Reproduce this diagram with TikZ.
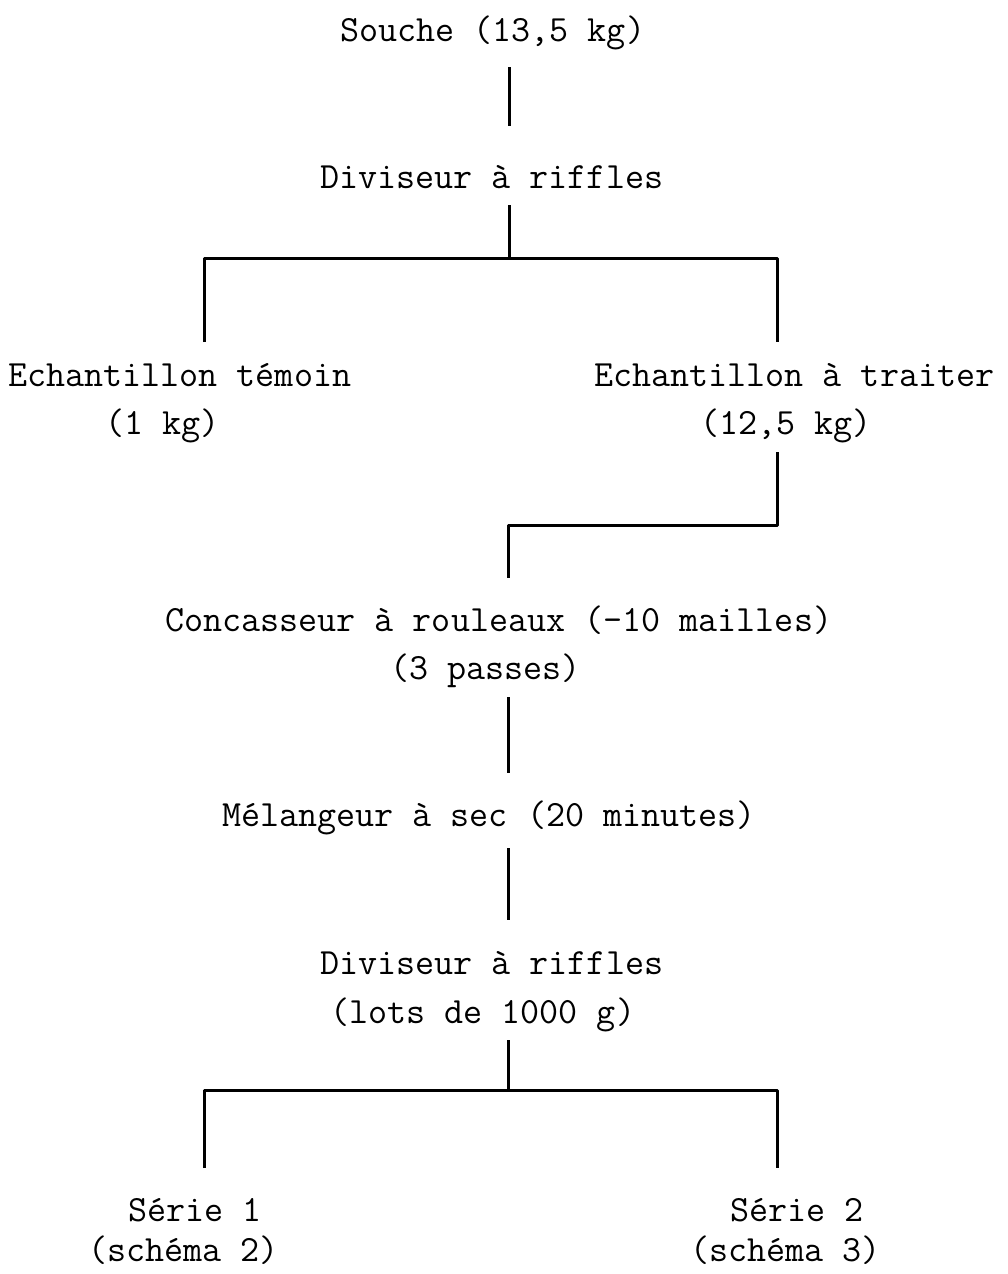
\documentclass[tikz,border=0pt]{standalone}
\usepackage{fontspec}
\begin{document}
\begin{tikzpicture}[x=1pt,y=-1pt,
  lbl/.style={anchor=base west,inner sep=0pt,font=\ttfamily\fontsize{37}{44}\selectfont},
  conn/.style={line width=3pt,line join=round,line cap=butt}]
\useasboundingbox (0,0) rectangle (1008,1274);
\node[lbl] (souche) at (340,41) {Souche (13,5 kg)};
\node[lbl] (div1) at (320,188) {Diviseur à riffles};
\node[lbl] (temoin) at (8,386) {Echantillon témoin};
\node[lbl] (temoinkg) at (105,434) {(1 kg)};
\node[lbl] (traiter) at (594,386) {Echantillon à traiter};
\node[lbl] (traiterkg) at (700,434) {(12,5 kg)};
\node[lbl] (conc) at (165,631) {Concasseur à rouleaux (-10 mailles)};
\node[lbl] (passes) at (390,679) {(3 passes)};
\node[lbl] (mel) at (222,826) {Mélangeur à sec (20 minutes)};
\node[lbl] (div2) at (320,974) {Diviseur à riffles};
\node[lbl] (lots) at (330,1023) {(lots de 1000 g)};
\node[lbl] (s1) at (128,1221) {Série 1};
\node[lbl] (sch2) at (88,1261) {(schéma 2)};
\node[lbl] (s2) at (730,1221) {Série 2};
\node[lbl] (sch3) at (690,1261) {(schéma 3)};
% junction coordinates
\coordinate (a1) at (509,67);
\coordinate (a2) at (509,126);
\coordinate (b1) at (509,205);
\coordinate (b2) at (509,258);
\coordinate (bl) at (204,258);
\coordinate (br) at (777,258);
\coordinate (bl2) at (204,342);
\coordinate (br2) at (777,342);
\coordinate (c1) at (777,452);
\coordinate (c2) at (777,525);
\coordinate (c3) at (508,525);
\coordinate (c4) at (508,578);
\coordinate (d1) at (508,697);
\coordinate (d2) at (508,773);
\coordinate (e1) at (508,848);
\coordinate (e2) at (508,920);
\coordinate (f1) at (508,1040);
\coordinate (f2) at (508,1090);
\coordinate (fl) at (204,1090);
\coordinate (fr) at (777,1090);
\coordinate (fl2) at (204,1168);
\coordinate (fr2) at (777,1168);
\draw[conn] (a1) -- (a2);
\draw[conn] (b1) -- (b2);
\draw[conn] (bl2) -- (bl) -- (br) -- (br2);
\draw[conn] (c1) -- (c2) -- (c3) -- (c4);
\draw[conn] (d1) -- (d2);
\draw[conn] (e1) -- (e2);
\draw[conn] (f1) -- (f2);
\draw[conn] (fl2) -- (fl) -- (fr) -- (fr2);
\end{tikzpicture}
\end{document}
